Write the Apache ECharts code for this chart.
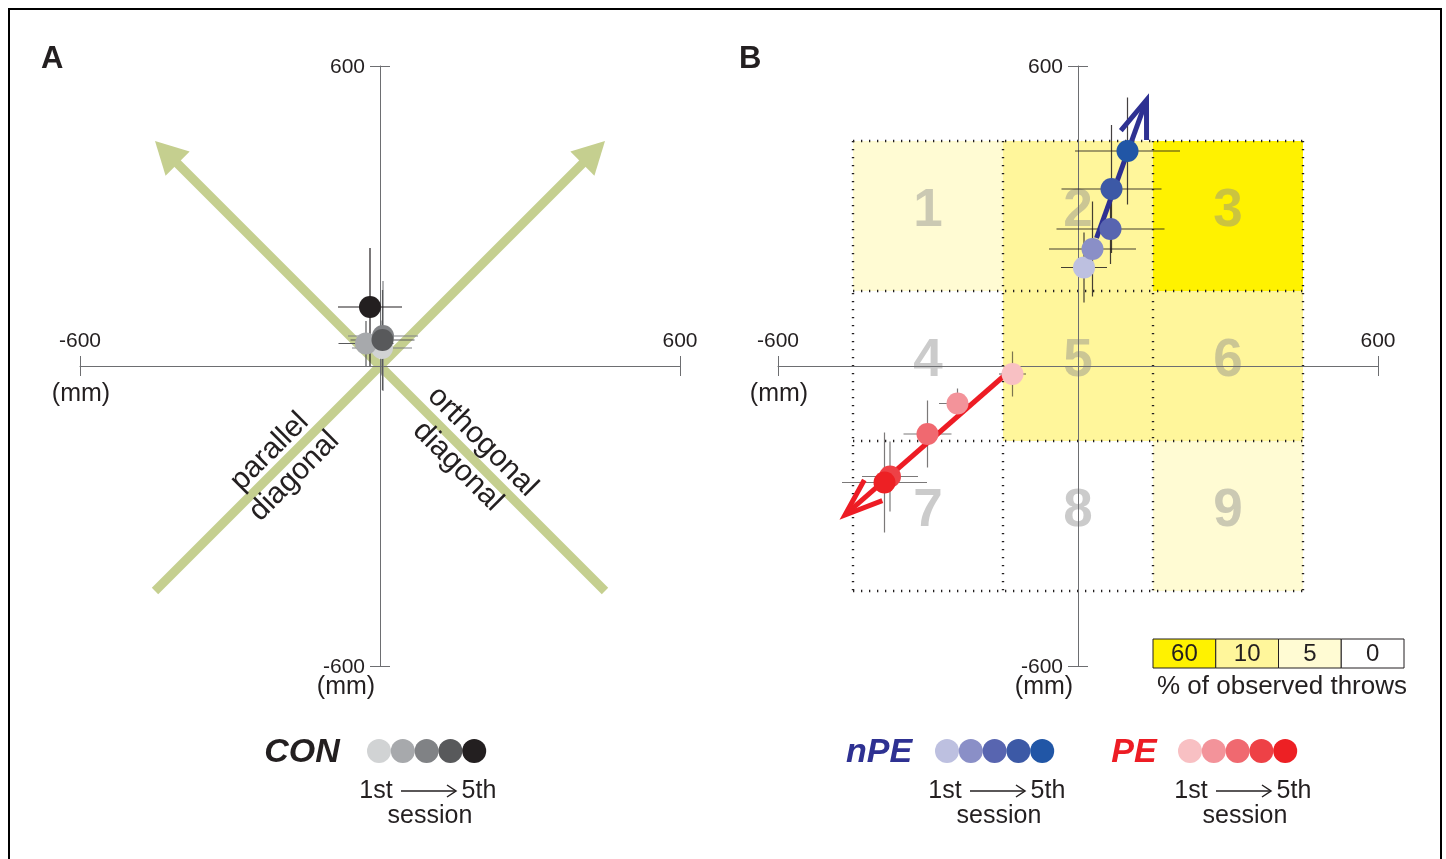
<!DOCTYPE html>
<html><head><meta charset="utf-8">
<script src="https://cdn.jsdelivr.net/npm/echarts/dist/echarts.min.js"></script>
<style>html,body{margin:0;padding:0;background:#fff}#c{width:1446px;height:859px}</style>
</head><body><div id="c"></div><script>
// ---------- data ----------
const AX_MIN = -600, AX_MAX = 600;
const tickValues = [-600, 600];
const tickLabels = ['-600', '600'];
const sessions = ['1st', '2nd', '3rd', '4th', '5th'];

const conX = [4, -28, 6, 5, -20];
const conY = [36, 45, 60, 52, 118];
const conSdX = [60, 55, 70, 64, 64];
const conSdY = [55, 45, 110, 100, 118];
const conColors = ['#d1d3d4', '#a7a9ac', '#808285', '#58595b', '#231f20'];
const conErrColors = ['#808285', '#58595b', '#808285', '#58595b', '#231f20'];

const npeX = [12, 29, 65, 67, 99];
const npeY = [197, 234, 274, 354, 430];
const npeSdX = [46, 87, 108, 100, 105];
const npeSdY = [70, 95, 70, 128, 107];
const npeColors = ['#bdc0e0', '#8a8fc7', '#5865b0', '#3c59a6', '#2156a6'];

const peX = [-131, -241, -301, -376, -387];
const peY = [-16, -75, -136, -221, -233];
const peSdX = [27, 37, 48, 56, 85];
const peSdY = [45, 30, 67, 70, 100];
const peColors = ['#f8c0c3', '#f3939a', '#f06970', '#ee4146', '#ed2024'];

const cellLabels = ['1', '2', '3', '4', '5', '6', '7', '8', '9'];
const cellCenterX = [-300, 0, 300, -300, 0, 300, -300, 0, 300];
const cellCenterY = [300, 300, 300, 0, 0, 0, -300, -300, -300];
const cellPercent = [5, 10, 60, 0, 10, 10, 0, 0, 5];
const cellSize = 300;
const scaleLevels = [60, 10, 5, 0];
const scaleColors = ['#fff200', '#fff69b', '#fffbd3', '#ffffff'];

const diagArrows = [[-450, -450, 450, 450], [450, -450, -450, 450]];
const npeArrow = [37, 256, 137, 532];
const peArrow = [-146, -18, -466, -298];

// ---------- styles ----------
const fontFam = '"Liberation Sans", Arial, Helvetica, sans-serif';
const txtColor = '#231f20';
const axisColor = '#6d6e71';
const diagColor = '#c5cf8f';

function axesFor(gi) {
  const base = { gridIndex: gi, type: 'value', min: AX_MIN, max: AX_MAX, interval: AX_MAX - AX_MIN,
    splitLine: { show: false }, axisLabel: { show: false }, z: 3 };
  const tick = { show: true, length: 10, lineStyle: { color: axisColor, width: 1 } };
  const line = { show: true, onZero: true, lineStyle: { color: axisColor, width: 1 } };
  return {
    x: [
      Object.assign({}, base, { position: 'bottom', axisLine: line, axisTick: tick }),
      Object.assign({}, base, { position: 'top', axisLine: { show: false, onZero: true }, axisTick: tick })
    ],
    y: [
      Object.assign({}, base, { position: 'left', axisLine: line, axisTick: tick }),
      Object.assign({}, base, { position: 'right', axisLine: { show: false, onZero: true }, axisTick: tick })
    ]
  };
}
const axA = axesFor(0), axB = axesFor(1);

// tick labels drawn through the axis scale
function tickLabelSeries(gi) {
  return {
    type: 'custom', name: 'ticks' + gi, xAxisIndex: gi * 2, yAxisIndex: gi * 2, z: 7, silent: true,
    data: tickValues.map((v, i) => [v, i]),
    encode: { x: 0 },
    renderItem(params, api) {
      const v = api.value(0), i = api.value(1);
      const px = api.coord([v, 0]), py = api.coord([0, v]);
      const f = '21px ' + fontFam;
      return { type: 'group', children: [
        { type: 'text', x: px[0], y: px[1] - 25, style: { text: tickLabels[i], font: f, fill: txtColor, align: 'center', verticalAlign: 'middle' } },
        { type: 'text', x: py[0] - 15, y: py[1] + 1, style: { text: tickLabels[i], font: f, fill: txtColor, align: 'right', verticalAlign: 'middle' } }
      ] };
    }
  };
}

function colorForPercent(v) { const i = scaleLevels.indexOf(v); return i >= 0 ? scaleColors[i] : '#fff'; }

function errBarSeries(name, xs, ys, sxs, sys, gi, color, width) {
  return {
    type: 'custom', name, xAxisIndex: gi * 2, yAxisIndex: gi * 2, z: 4,
    data: xs.map((x, i) => [x, ys[i], sxs[i], sys[i]]),
    encode: { x: 0, y: 1 },
    renderItem(params, api) {
      const x = api.value(0), y = api.value(1), sx = api.value(2), sy = api.value(3);
      const l = api.coord([x - sx, y]), r = api.coord([x + sx, y]);
      const t = api.coord([x, y + sy]), b = api.coord([x, y - sy]);
      const c = Array.isArray(color) ? color[params.dataIndex] : color;
      return { type: 'group', children: [
        { type: 'line', shape: { x1: l[0], y1: l[1], x2: r[0], y2: r[1] }, style: { stroke: c, lineWidth: width } },
        { type: 'line', shape: { x1: t[0], y1: t[1], x2: b[0], y2: b[1] }, style: { stroke: c, lineWidth: width } }
      ] };
    }
  };
}

function scatterSeries(name, xs, ys, colors, gi) {
  return {
    type: 'scatter', name, xAxisIndex: gi * 2, yAxisIndex: gi * 2, z: 6, symbolSize: 22,
    data: xs.map((x, i) => ({ value: [x, ys[i]], name: sessions[i], itemStyle: { color: colors[i], opacity: 1 } }))
  };
}

function arrowSeries(name, arrows, gi, opt) {
  return {
    type: 'custom', name, xAxisIndex: gi * 2, yAxisIndex: gi * 2, z: opt.z || 3,
    data: arrows, encode: { x: [0, 2], y: [1, 3] },
    renderItem(params, api) {
      const p0 = api.coord([api.value(0), api.value(1)]);
      const p1 = api.coord([api.value(2), api.value(3)]);
      const dx = p1[0] - p0[0], dy = p1[1] - p0[1];
      const L = Math.hypot(dx, dy), ux = dx / L, uy = dy / L;
      if (opt.filled) {
        const bx = p1[0] - ux * opt.headLen, by = p1[1] - uy * opt.headLen, hw = opt.headWidth / 2;
        return { type: 'group', children: [
          { type: 'line', shape: { x1: p0[0], y1: p0[1], x2: bx + ux * 2, y2: by + uy * 2 }, style: { stroke: opt.color, lineWidth: opt.width } },
          { type: 'polygon', shape: { points: [[p1[0], p1[1]], [bx - uy * hw, by + ux * hw], [bx + uy * hw, by - ux * hw]] }, style: { fill: opt.color } }
        ] };
      }
      const a = opt.headAngle, hl = opt.headLen;
      const rot = (ang) => [-(ux * Math.cos(ang) - uy * Math.sin(ang)), -(ux * Math.sin(ang) + uy * Math.cos(ang))];
      const r1 = rot(a), r2 = rot(-a);
      return { type: 'group', children: [
        { type: 'line', shape: { x1: p0[0], y1: p0[1], x2: p1[0] - ux * 5, y2: p1[1] - uy * 5 }, style: { stroke: opt.color, lineWidth: opt.width } },
        { type: 'polyline', shape: { points: [[p1[0] + r1[0] * hl, p1[1] + r1[1] * hl], [p1[0], p1[1]], [p1[0] + r2[0] * hl, p1[1] + r2[1] * hl]] },
          style: { stroke: opt.color, lineWidth: opt.width, fill: null, lineJoin: 'miter', miterLimit: 10 } }
      ] };
    }
  };
}

// heatmap cells (panel B)
const cellSeries = {
  type: 'custom', name: 'cells', xAxisIndex: 2, yAxisIndex: 2, z: 1,
  data: cellLabels.map((l, i) => [cellCenterX[i], cellCenterY[i], cellPercent[i], i]),
  encode: { x: 0, y: 1 },
  renderItem(params, api) {
    const cx = api.value(0), cy = api.value(1), v = api.value(2), idx = api.value(3);
    const p0 = api.coord([cx - cellSize / 2, cy + cellSize / 2]);
    const p1 = api.coord([cx + cellSize / 2, cy - cellSize / 2]);
    const c = api.coord([cx, cy]);
    return { type: 'group', children: [
      { type: 'rect', shape: { x: p0[0], y: p0[1], width: p1[0] - p0[0], height: p1[1] - p0[1] }, style: { fill: colorForPercent(v) } },
      { type: 'text', x: c[0], y: c[1] - 5, style: { text: cellLabels[idx], font: 'bold 53px ' + fontFam, fill: 'rgba(140,140,140,0.45)', align: 'center', verticalAlign: 'middle' } }
    ] };
  }
};
const uniqX = [...new Set(cellCenterX)].sort((a, b) => a - b);
const uniqY = [...new Set(cellCenterY)].sort((a, b) => a - b);
const edgesX = [uniqX[0] - cellSize / 2].concat(uniqX.map(v => v + cellSize / 2));
const edgesY = [uniqY[0] - cellSize / 2].concat(uniqY.map(v => v + cellSize / 2));
const edgeData = edgesX.map(v => [0, v]).concat(edgesY.map(v => [1, v]));
const gridLineSeries = {
  type: 'custom', name: 'cellBorders', xAxisIndex: 2, yAxisIndex: 2, z: 2,
  data: edgeData,
  encode: {},
  renderItem(params, api) {
    const o = api.value(0), v = api.value(1);
    const lo = edgesX[0], hi = edgesX[edgesX.length - 1];
    const a = o === 0 ? api.coord([v, hi]) : api.coord([lo, v]);
    const b = o === 0 ? api.coord([v, lo]) : api.coord([hi, v]);
    return { type: 'line', shape: { x1: a[0], y1: a[1], x2: b[0], y2: b[1] },
      style: { stroke: '#231f20', lineWidth: 2.4, lineDash: [1.3, 6.7] } };
  }
};

// ---------- graphic (labels, legends) ----------
const g = [];
g.push({ type: 'rect', shape: { x: 9, y: 9, width: 1432, height: 900 }, style: { fill: 'none', stroke: '#000', lineWidth: 2 }, z: 100 });
const txt = (text, x, y, size, opts) => Object.assign({ type: 'text', x, y, z: 50,
  style: Object.assign({ text, font: size + 'px ' + fontFam, fill: txtColor, align: 'center', verticalAlign: 'middle' }, (opts && opts.style) || {}) },
  opts && opts.rotation !== undefined ? { rotation: opts.rotation } : {});
g.push(txt('A', 41, 59, 'bold 31', { style: { align: 'left' } }));
g.push(txt('B', 739, 59, 'bold 31', { style: { align: 'left' } }));
// (mm) labels
[[81, 394], [346, 687], [779, 394], [1044, 687]].forEach(p => g.push(txt('(mm)', p[0], p[1], 25)));
// diagonal labels
g.push(txt('parallel\ndiagonal', 282, 464, 30, { rotation: Math.PI / 4, style: { lineHeight: 35 } }));
g.push(txt('orthogonal\ndiagonal', 470, 454, 30, { rotation: -Math.PI / 4, style: { lineHeight: 35 } }));

// session legends
function sessionLegend(label, labelColor, labelX, circleX0, colors, textCenter) {
  g.push(txt(label, labelX, 753, 'italic bold 34', { style: { fill: labelColor } }));
  colors.forEach((c, i) => g.push({ type: 'circle', z: 50, shape: { cx: circleX0 + i * 23.8, cy: 751, r: 12 }, style: { fill: c } }));
  g.push(txt(sessions[0], textCenter - 54, 791, 25));
  g.push(txt(sessions[4], textCenter + 49, 791, 25));
  const a0 = textCenter - 29, a1 = textCenter + 26;
  g.push({ type: 'line', z: 50, shape: { x1: a0, y1: 791, x2: a1, y2: 791 }, style: { stroke: txtColor, lineWidth: 1.5 } });
  g.push({ type: 'polyline', z: 50, shape: { points: [[a1 - 9, 785], [a1, 791], [a1 - 9, 797]] }, style: { stroke: txtColor, lineWidth: 1.5, fill: null } });
  g.push(txt('session', textCenter, 816, 25));
}
sessionLegend('CON', txtColor, 302, 379, conColors, 430);
sessionLegend('nPE', '#2e3192', 879, 947, npeColors, 999);
sessionLegend('PE', '#ed1c24', 1134, 1190, peColors, 1245);

// percent scale
const sx0 = 1153, sw = 62.75, sy0 = 639, sh = 29;
scaleLevels.forEach((v, i) => {
  g.push({ type: 'rect', z: 50, shape: { x: sx0 + i * sw, y: sy0, width: sw, height: sh }, style: { fill: scaleColors[i], stroke: txtColor, lineWidth: 1 } });
  g.push(txt(String(v), sx0 + i * sw + sw / 2, sy0 + sh / 2 + 1, 24));
});
g.push(txt('% of observed throws', 1282, 687, 26));

// ---------- option ----------
const option = {
  animation: false,
  backgroundColor: '#fff',
  grid: [
    { left: 80, top: 66, width: 600, height: 600 },
    { left: 778, top: 66, width: 600, height: 600 }
  ],
  xAxis: axA.x.concat(axB.x),
  yAxis: axA.y.concat(axB.y),
  graphic: { elements: g },
  series: [
    cellSeries,
    gridLineSeries,
    arrowSeries('diagonals', diagArrows, 0, { filled: true, color: diagColor, width: 9, headLen: 32, headWidth: 34, z: 2 }),
    errBarSeries('CON sd', conX, conY, conSdX, conSdY, 0, conErrColors, 1.2),
    scatterSeries('CON', conX, conY, conColors, 0),
    errBarSeries('nPE sd', npeX, npeY, npeSdX, npeSdY, 1, 'rgba(35,31,32,0.85)', 1.2),
    errBarSeries('PE sd', peX, peY, peSdX, peSdY, 1, 'rgba(35,31,32,0.6)', 1.2),
    arrowSeries('nPE trend', [npeArrow], 1, { filled: false, color: '#2e3192', width: 5, headLen: 40, headAngle: 20 * Math.PI / 180, z: 5 }),
    arrowSeries('PE trend', [peArrow], 1, { filled: false, color: '#ed1c24', width: 5, headLen: 40, headAngle: 20 * Math.PI / 180, z: 5 }),
    scatterSeries('nPE', npeX, npeY, npeColors, 1),
    scatterSeries('PE', peX, peY, peColors, 1),
    tickLabelSeries(0),
    tickLabelSeries(1)
  ]
};
const chart = echarts.init(document.getElementById('c'));
chart.setOption(option);
</script></body></html>
